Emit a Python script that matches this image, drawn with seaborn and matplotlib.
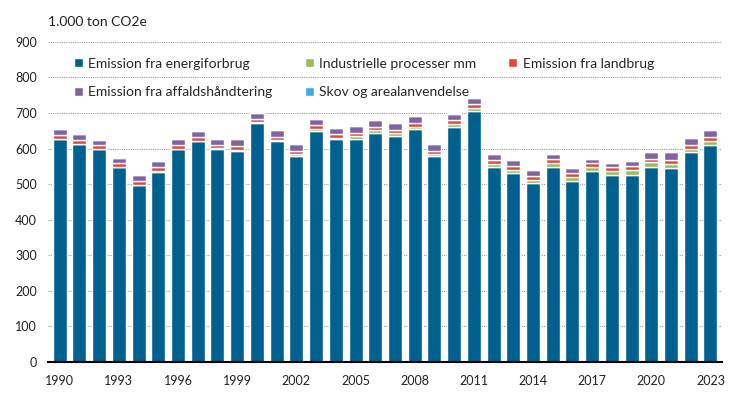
import pandas as pd
import matplotlib.pyplot as plt
import seaborn as sns
from matplotlib.patches import Patch

# Data (1.000 ton CO2e)
years = list(range(1990, 2024))
energi = [626, 612, 598, 547, 497, 535, 598, 620, 598, 594, 671, 620, 580, 650, 626, 628, 645,
          636, 655, 578, 662, 706, 549, 532, 502, 549, 510, 537, 525, 527, 549, 546, 589, 610]
industri = [2, 2, 2, 2, 2, 2, 2, 2, 3, 3, 3, 3, 4, 5, 5, 6, 6,
            7, 7, 6, 8, 8, 9, 9, 10, 10, 10, 11, 11, 12, 12, 12, 11, 11]
landbrug = [10] * 22 + [11] * 12
affald = [16, 16, 15, 15, 16, 17, 18, 18, 17, 19, 17, 18, 20, 19, 18, 20, 20,
          20, 21, 20, 18, 19, 15, 17, 18, 14, 15, 13, 13, 15, 19, 20, 19, 19]
skov = [1] * 34

series = ["Emission fra energiforbrug", "Industrielle processer mm", "Emission fra landbrug",
          "Emission fra affaldshåndtering", "Skov og arealanvendelse"]
colors = ["#00608F", "#9BBB59", "#E0483B", "#8064A2", "#3AAEE0"]

df = pd.DataFrame({"År": [str(y) for y in years], series[0]: energi, series[1]: industri,
                   series[2]: landbrug, series[3]: affald, series[4]: skov})

sns.set_style("white")
plt.rcParams["font.family"] = ["Lato", "DejaVu Sans"]

fig = plt.figure(figsize=(7.37, 3.95), dpi=100)
ax = fig.add_axes([0.065, 0.0835, 0.915, 0.8105])

bottom = pd.Series([0] * len(df))
for name, col in zip(series, colors):
    sns.barplot(x="År", y=name, data=df, bottom=bottom, color=col, width=0.71,
                saturation=1, ax=ax, zorder=3)
    bottom = bottom + df[name]

ax.set_ylim(0, 900)
ax.set_xlim(-0.6, len(years) - 0.4)
ax.set_yticks(range(0, 901, 100))
ax.set_xticks(range(0, len(years), 3))
ax.set_xticklabels([str(y) for y in years[::3]])
ax.set_xlabel("")
ax.set_ylabel("")
ax.tick_params(axis="both", length=0, labelsize=9, colors="#222222")
ax.tick_params(axis="y", pad=8)
ax.tick_params(axis="x", pad=9)

ax.yaxis.grid(True, color="#9a9a9a", linestyle=(0, (1, 1)), linewidth=0.8, zorder=0)
ax.set_axisbelow(True)
for s in ["top", "right", "left"]:
    ax.spines[s].set_visible(False)
ax.spines["bottom"].set_color("black")
ax.spines["bottom"].set_linewidth(1.5)
ax.spines["bottom"].set_zorder(5)

# legend fills column by column, so order handles to give rows like the original
handles = [Patch(facecolor=c, label=n) for n, c in zip(series, colors)]
order = [0, 3, 1, 4, 2]
ax.legend(handles=[handles[i] for i in order], ncol=3, loc="upper left",
          bbox_to_anchor=(0.02, 0.99), frameon=False, fontsize=10, handlelength=0.65,
          handleheight=0.65, handletextpad=0.4, columnspacing=2.3, labelspacing=1.2)

fig.text(48 / 737, 1 - 22 / 395, "1.000 ton CO2e", fontsize=10, va="center", ha="left",
         color="#222222")

fig.savefig("out.png", dpi=100)
